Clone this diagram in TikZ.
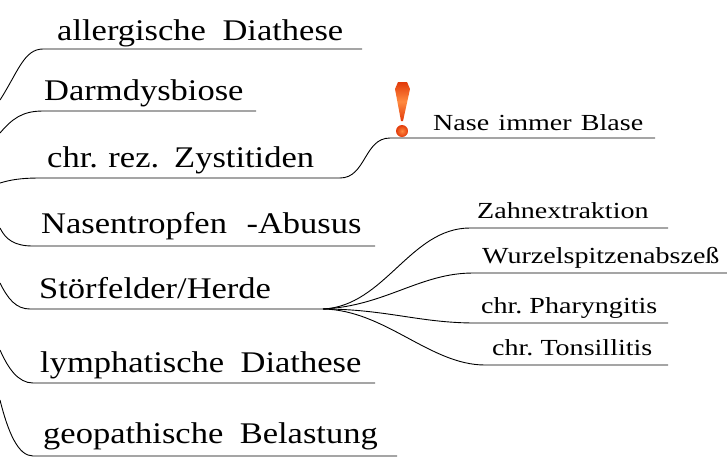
\documentclass[tikz,border=0pt]{standalone}
\usepackage{fontspec}
\setmainfont{Liberation Serif}
\newfontfamily\bigfam{Liberation Serif}[FakeStretch=1.15]
\newfontfamily\smallfam{Liberation Serif}[FakeStretch=1.22]
\definecolor{exdark}{RGB}{226,58,10}
\definecolor{exlight}{RGB}{255,138,64}
\begin{document}
\begin{tikzpicture}[x=1pt,y=-1pt,
  big/.style={anchor=base west,inner sep=0pt,font=\bigfam\fontsize{30}{33}\selectfont},
  small/.style={anchor=base west,inner sep=0pt,font=\smallfam\fontsize{23}{26}\selectfont},
  branch/.style={draw=black,line width=0.9pt}]
\useasboundingbox (0,0) rectangle (727,464);
% texts
\node[big] (t1) at (57,40) {allergische\hspace{0.55em}Diathese};
\node[big] (t2) at (44,100) {Darmdysbiose};
\node[big] (t3) at (47,167) {chr.\hspace{0.35em}rez.\hspace{0.5em}Zystitiden};
\node[big] (t4) at (41,233) {Nasentropfen\hspace{0.65em}-Abusus};
\node[big] (t5) at (39,298) {Störfelder/Herde};
\node[big] (t6) at (40,372) {lymphatische\hspace{0.55em}Diathese};
\node[big] (t7) at (43,443) {geopathische\hspace{0.55em}Belastung};
\node[small] (s1) at (433,130) {Nase\hspace{0.4em}immer\hspace{0.4em}Blase};
\node[small] (s2) at (477,218) {Zahnextraktion};
\node[small] (s3) at (482,263) {Wurzelspitzenabszeß};
\node[small] (s4) at (481,313) {chr.\ Pharyngitis};
\node[small] (s5) at (492,355) {chr.\ Tonsillitis};
% left origins
\coordinate (o1) at (0,100);
\coordinate (o2) at (0,133);
\coordinate (o3) at (0,183);
\coordinate (o4) at (0,228);
\coordinate (o5) at (0,283);
\coordinate (o6) at (0,350);
\coordinate (o7) at (0,400);
% underline ends
\coordinate (a1) at (43,49);   \coordinate (b1) at (362,49);
\coordinate (a2) at (43,111);  \coordinate (b2) at (256,111);
\coordinate (a3) at (40,178);  \coordinate (b3) at (340,178);
\coordinate (a4) at (33,246);  \coordinate (b4) at (375,246);
\coordinate (a5) at (30,309);  \coordinate (b5) at (323,309);
\coordinate (a6) at (33,383);  \coordinate (b6) at (375,383);
\coordinate (a7) at (33,456);  \coordinate (b7) at (397,456);
\coordinate (na) at (390,138); \coordinate (nb) at (655,138);
\coordinate (za) at (470,228); \coordinate (zb) at (668,228);
\coordinate (wa) at (473,273); \coordinate (wb) at (727,273);
\coordinate (pa) at (475,323); \coordinate (pb) at (668,323);
\coordinate (ta) at (485,365); \coordinate (tb) at (668,365);
% main branches
\draw[branch] (o1) .. controls (18,72) and (24,49) .. (a1) -- (b1);
\draw[branch] (o2) .. controls (12,119) and (22,111) .. (a2) -- (b2);
\draw[branch] (o3) .. controls (10,180) and (20,178) .. (a3) -- (b3);
\draw[branch] (o4) .. controls (6,240) and (15,246) .. (a4) -- (b4);
\draw[branch] (o5) .. controls (8,299) and (16,309) .. (a5) -- (b5);
\draw[branch] (o6) .. controls (8,368) and (18,383) .. (a6) -- (b6);
\draw[branch] (o7) .. controls (8,432) and (18,456) .. (a7) -- (b7);
% sub branches
\draw[branch] (b3) .. controls (366,178) and (364,138) .. (na) -- (nb);
\draw[branch] (b5) .. controls (385,306) and (410,228) .. (za) -- (zb);
\draw[branch] (b5) .. controls (385,306) and (420,273) .. (wa) -- (wb);
\draw[branch] (b5) .. controls (385,309) and (420,323) .. (pa) -- (pb);
\draw[branch] (b5) .. controls (385,310) and (430,365) .. (ta) -- (tb);
% exclamation mark
\path[shading=axis,left color=exdark,right color=exdark,middle color=exlight,shading angle=0]
  (398,82) -- (407,82) -- (410,89) -- (403,121) -- (401,121) -- (395,89) -- cycle;
\shade[inner color=exlight,outer color=exdark] (402,131) circle (6);
\end{tikzpicture}
\end{document}
